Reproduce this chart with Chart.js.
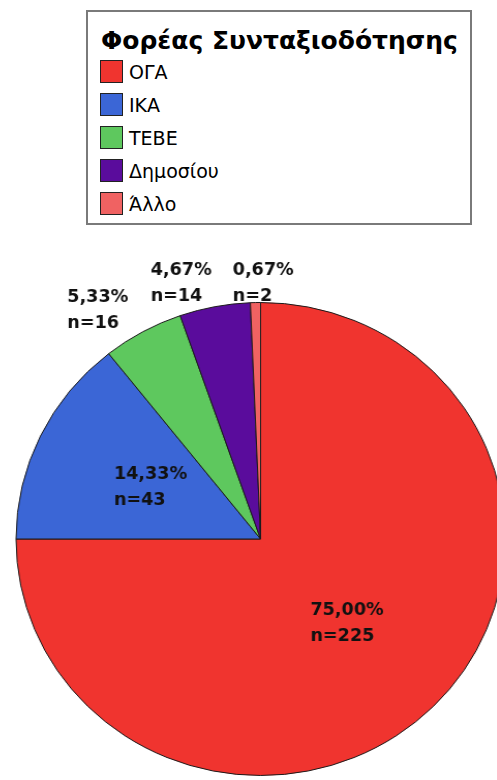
<!DOCTYPE html>
<html>
<head>
<meta charset="utf-8">
<script src="https://cdn.jsdelivr.net/npm/chart.js@4/dist/chart.umd.min.js"></script>
<style>
  html, body { margin: 0; padding: 0; background: #fff; }
  body { width: 497px; height: 780px; overflow: hidden; position: relative; }
  .legend-box {
    position: absolute; left: 86px; top: 10px; width: 382px; height: 211px;
    border: 2px solid #7a7a7a; background: #fff;
  }
  .legend-title {
    position: absolute; left: 13px; top: 14px;
    font: bold 25px "DejaVu Sans", sans-serif; color: #000; white-space: nowrap;
  }
  .legend-item { position: absolute; left: 12px; height: 23px; display: flex; align-items: center; }
  .legend-item .sw { width: 21px; height: 21px; border: 1px solid #222; }
  .legend-item .lb { margin-left: 6px; font: 19px "DejaVu Sans", sans-serif; color: #000; white-space: nowrap; }
  .chart-wrap {
    position: absolute; left: 15px; top: 240px; width: 475px; height: 536px;
    transform: scaleX(1.034); transform-origin: 0 0;
  }
</style>
</head>
<body>
<div class="legend-box" id="legend">
  <div class="legend-title" id="legend-title"></div>
</div>
<div class="chart-wrap"><canvas id="pie"></canvas></div>
<script>
  // Φορέας Συνταξιοδότησης
  const legendTitle = 'Φορέας Συνταξιοδότησης';
  const categories = ['ΟΓΑ', 'ΙΚΑ', 'ΤΕΒΕ', 'Δημοσίου', 'Άλλο'];
  const counts = [225, 43, 16, 14, 2];
  const colors = ['#f0342f', '#3b66d6', '#5ec85e', '#5a0c9c', '#f06262'];

  // θέσεις ετικετών για τις μικρές φέτες (σε σχέση με το άκρο της φέτας)
  const outsideOffsets = {
    'ΤΕΒΕ': { dx: -73, dy: -34 },
    'Δημοσίου': { dx: -62, dy: -36 },
    'Άλλο': { dx: -22, dy: -32 },
  };

  const total = counts.reduce((a, b) => a + b, 0);

  // HTML υπόμνημα
  document.getElementById('legend-title').textContent = legendTitle;
  const legendEl = document.getElementById('legend');
  categories.forEach((c, i) => {
    const item = document.createElement('div');
    item.className = 'legend-item';
    item.style.top = (48 + i * 33) + 'px';
    item.innerHTML = `<div class="sw" style="background:${colors[i]}"></div><div class="lb">${c}</div>`;
    legendEl.appendChild(item);
  });

  const sliceLabels = {
    id: 'sliceLabels',
    afterDatasetsDraw(chart) {
      const ctx = chart.ctx;
      const meta = chart.getDatasetMeta(0);
      ctx.save();
      ctx.font = 'bold 17px "DejaVu Sans", sans-serif';
      ctx.fillStyle = '#111';
      ctx.textAlign = 'left';
      ctx.textBaseline = 'middle';
      meta.data.forEach((arc, i) => {
        const p = arc.getProps(['x', 'y', 'startAngle', 'endAngle', 'outerRadius'], true);
        const mid = (p.startAngle + p.endAngle) / 2;
        const share = counts[i] / total * 100;
        const lines = [share.toFixed(2).replace('.', ',') + '%', 'n=' + counts[i]];
        const w = Math.max(...lines.map((l) => ctx.measureText(l).width));
        let left, top;
        if (share >= 10) {
          const cx = p.x + Math.cos(mid) * p.outerRadius * 0.5;
          const cy = p.y + Math.sin(mid) * p.outerRadius * 0.5;
          left = cx - w / 2;
          top = cy - 12.5;
        } else {
          const off = outsideOffsets[categories[i]];
          left = p.x + Math.cos(mid) * p.outerRadius + off.dx;
          top = p.y + Math.sin(mid) * p.outerRadius + off.dy;
        }
        lines.forEach((l, k) => ctx.fillText(l, left, top + k * 26));
      });
      ctx.restore();
    },
  };

  new Chart(document.getElementById('pie'), {
    type: 'pie',
    data: {
      labels: categories,
      datasets: [{
        data: counts,
        backgroundColor: colors,
        borderColor: '#1a1a1a',
        borderWidth: 1,
      }],
    },
    options: {
      responsive: true,
      maintainAspectRatio: false,
      animation: false,
      layout: { padding: { top: 62 } },
      plugins: {
        legend: { display: false },
        tooltip: { enabled: false },
      },
    },
    plugins: [sliceLabels],
  });
</script>
</body>
</html>
